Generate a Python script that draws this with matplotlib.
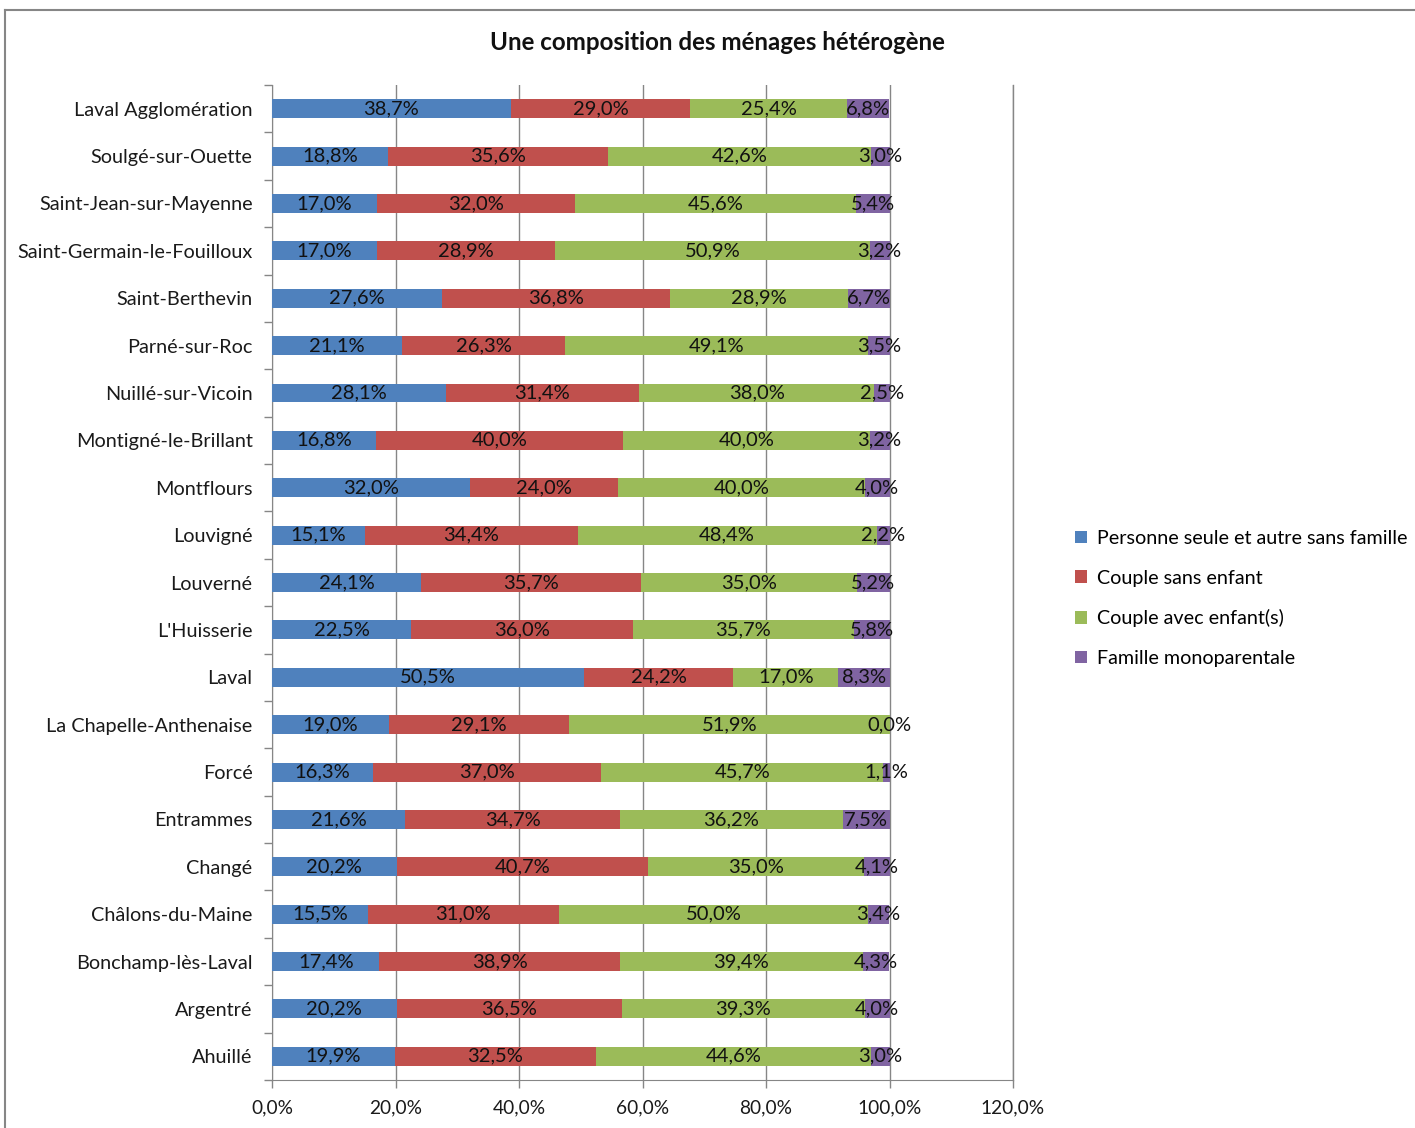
"""Household composition across the communes of Laval Agglomération."""

import matplotlib
matplotlib.use("Agg")
import matplotlib.pyplot as plt
from matplotlib.lines import Line2D
from matplotlib.patches import Patch
from matplotlib.ticker import FixedLocator, FuncFormatter

plt.rcParams["font.family"] = ["Lato", "DejaVu Sans"]

# Communes, listed bottom to top as they stack on the y axis.
communes = [
    "Ahuillé", "Argentré", "Bonchamp-lès-Laval", "Châlons-du-Maine",
    "Changé", "Entrammes", "Forcé", "La Chapelle-Anthenaise", "Laval",
    "L'Huisserie", "Louverné", "Louvigné", "Montflours",
    "Montigné-le-Brillant", "Nuillé-sur-Vicoin", "Parné-sur-Roc",
    "Saint-Berthevin", "Saint-Germain-le-Fouilloux",
    "Saint-Jean-sur-Mayenne", "Soulgé-sur-Ouette", "Laval Agglomération",
]

# Share of households (%) by type, same order as communes.
seule = [19.9, 20.2, 17.4, 15.5, 20.2, 21.6, 16.3, 19.0, 50.5, 22.5, 24.1,
         15.1, 32.0, 16.8, 28.1, 21.1, 27.6, 17.0, 17.0, 18.8, 38.7]
sans_enfant = [32.5, 36.5, 38.9, 31.0, 40.7, 34.7, 37.0, 29.1, 24.2, 36.0,
               35.7, 34.4, 24.0, 40.0, 31.4, 26.3, 36.8, 28.9, 32.0, 35.6,
               29.0]
avec_enfant = [44.6, 39.3, 39.4, 50.0, 35.0, 36.2, 45.7, 51.9, 17.0, 35.7,
               35.0, 48.4, 40.0, 40.0, 38.0, 49.1, 28.9, 50.9, 45.6, 42.6,
               25.4]
monoparentale = [3.0, 4.0, 4.3, 3.4, 4.1, 7.5, 1.1, 0.0, 8.3, 5.8, 5.2, 2.2,
                 4.0, 3.2, 2.5, 3.5, 6.7, 3.2, 5.4, 3.0, 6.8]

series = [
    ("Personne seule et autre sans famille", seule, "#4F81BD"),
    ("Couple sans enfant", sans_enfant, "#C0504D"),
    ("Couple avec enfant(s)", avec_enfant, "#9BBB59"),
    ("Famille monoparentale", monoparentale, "#8064A2"),
]

W, H = 1415, 1128
fig = plt.figure(figsize=(W / 100, H / 100), dpi=100)
ax = fig.add_axes([272 / W, 48 / H, (1013 - 272) / W, (1080 - 85) / H])

# outer chart frame (left and top edges are visible)
grey = "#868686"
fig.add_artist(Line2D([5 / W, 5 / W], [0, 1 - 10 / H], color=grey, lw=1.5,
                      transform=fig.transFigure))
fig.add_artist(Line2D([5 / W, 1], [1 - 10 / H, 1 - 10 / H], color=grey,
                      lw=1.5, transform=fig.transFigure))

pos = list(range(len(communes)))
left = [0.0] * len(communes)
for name, values, colour in series:
    frac = [v / 100 for v in values]
    bars = ax.barh(pos, frac, left=left, height=0.4, color=colour,
                   label=name, zorder=3)
    for bar, v in zip(bars, values):
        cx = bar.get_x() + bar.get_width() / 2
        ax.text(cx, bar.get_y() + bar.get_height() / 2,
                f"{v:.1f}%".replace(".", ","), ha="center", va="center",
                fontsize=14.5, color="#111111", zorder=4)
    left = [a + b for a, b in zip(left, frac)]

ax.set_xlim(0, 1.2)
ax.set_ylim(-0.5, len(communes) - 0.5)
ax.set_xticks([i * 0.2 for i in range(7)])
ax.xaxis.set_major_formatter(
    FuncFormatter(lambda x, _: f"{x * 100:.1f}%".replace(".", ",")))
ax.set_yticks(pos)
ax.set_yticklabels(communes)
ax.yaxis.set_minor_locator(FixedLocator([p - 0.5 for p in pos] + [pos[-1] + 0.5]))
ax.tick_params(axis="y", which="major", length=0, pad=14, labelsize=14.3,
               labelcolor="#1a1a1a")
ax.tick_params(axis="y", which="minor", length=6, color=grey, width=1)
ax.tick_params(axis="x", length=6, color=grey, width=1, labelsize=13.8,
               labelcolor="#1a1a1a", pad=8)
for side in ("top", "right"):
    ax.spines[side].set_visible(False)
for side in ("left", "bottom"):
    ax.spines[side].set_color(grey)
ax.grid(axis="x", color=grey, lw=1, zorder=0)
ax.axvline(1.2, color=grey, lw=1, zorder=0, clip_on=False)

fig.text(717 / W, 1 - 42 / H, "Une composition des ménages hétérogène",
         ha="center", va="center", fontsize=17.4, fontweight="bold",
         color="#111111")

handles = [Patch(facecolor=c, edgecolor="none") for _, _, c in series]
fig.legend(handles, [n for n, _, _ in series], loc="upper left",
           bbox_to_anchor=(1067 / W, 1 - 522 / H), frameon=False,
           fontsize=14.2, handlelength=0.6, handleheight=0.6,
           handletextpad=0.5, labelspacing=1.15, borderaxespad=0)

fig.savefig("out.png", dpi=100)
